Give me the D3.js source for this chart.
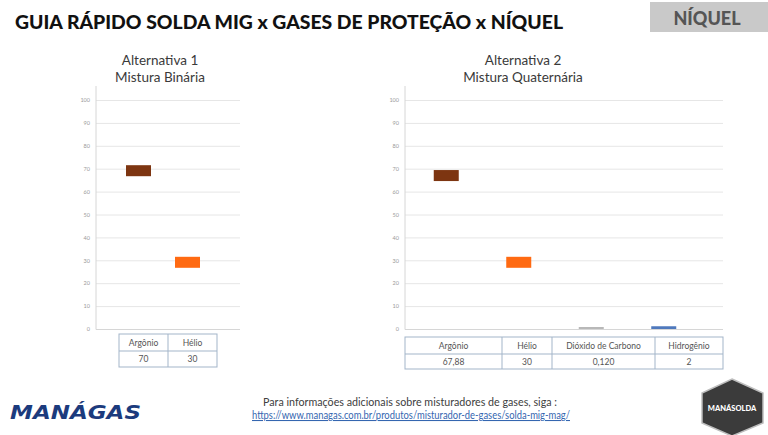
<!DOCTYPE html>
<html><head><meta charset="utf-8">
<script src="https://cdn.jsdelivr.net/npm/d3@7"></script>
<style>
body{margin:0;background:#fff;}
svg{display:block;}
</style></head>
<body>
<svg id="c" width="768" height="435"></svg>
<script>
// ---------- data ----------
const yTicks = [0,10,20,30,40,50,60,70,80,90,100];
const alt1Categories = ["Argônio","Hélio"];
const alt1Values = [70, 30];
const alt1Labels = ["70","30"];
const alt2Categories = ["Argônio","Hélio","Dióxido de Carbono","Hidrogênio"];
const alt2Values = [67.88, 30, 0.12, 2];
const alt2Labels = ["67,88","30","0,120","2"];
const gasColors = ["#7d3511","#ff6a12","#b8b8b8","#4f79bd"];

// ---------- layout ----------
const svg = d3.select("#c");
const FONT = "Lato, 'Noto Sans', sans-serif";

// header
svg.append("text").attr("x",15).attr("y",29)
  .attr("font-family",FONT).attr("font-weight","900").attr("font-size",19)
  .attr("fill","#111").attr("textLength",548).attr("lengthAdjust","spacingAndGlyphs")
  .text("GUIA RÁPIDO SOLDA MIG x GASES DE PROTEÇÃO  x NÍQUEL");
svg.append("rect").attr("x",650).attr("y",2).attr("width",118).attr("height",30).attr("fill","#c9c9c9");
svg.append("text").attr("x",707).attr("y",25).attr("text-anchor","middle")
  .attr("font-family",FONT).attr("font-weight","900").attr("font-size",18)
  .attr("fill","#555").text("NÍQUEL");

function panel(cfg){
  const g = svg.append("g");
  // subtitles
  cfg.titles.forEach((t,i)=>{
    g.append("text").attr("x",cfg.titleX).attr("y",65+i*16.5).attr("text-anchor","middle")
      .attr("font-family",FONT).attr("font-size",13.5).attr("fill","#3a3a3a").text(t);
  });
  const y = d3.scaleLinear().domain([0,100]).range([329,100]);
  // gridlines
  const grid = g.append("g").attr("transform",`translate(${cfg.axisX},0)`)
    .call(d3.axisLeft(y).tickValues(yTicks).tickSize(-(cfg.gridEnd-cfg.axisX)).tickFormat(""));
  grid.select(".domain").remove();
  grid.selectAll(".tick line").attr("stroke","#e6e6e6").attr("stroke-width",1);
  // labels
  const ax = g.append("g").attr("transform",`translate(${cfg.axisX-6},0)`)
    .call(d3.axisLeft(y).tickValues(yTicks).tickSize(0).tickPadding(0));
  ax.select(".domain").remove();
  ax.selectAll("text").attr("font-family",FONT).attr("font-size",5.5).attr("fill","#9a9a9a");
  // axis lines
  g.append("line").attr("x1",cfg.axisX).attr("x2",cfg.axisX).attr("y1",86).attr("y2",329.5)
    .attr("stroke","#d6d6d6");
  g.append("line").attr("x1",cfg.axisX).attr("x2",cfg.gridEnd).attr("y1",329.5).attr("y2",329.5)
    .attr("stroke","#d6d6d6");
  // markers
  const x = d3.scaleBand().domain(cfg.cats).range(cfg.barRange);
  const bw = 25;
  const mh = d => Math.max(2, Math.min(11,(y(0)-y(d))*0.6));
  g.selectAll("rect.m").data(cfg.vals).join("rect").attr("class","m")
    .attr("x",(d,i)=>x(cfg.cats[i])+x.bandwidth()/2-bw/2)
    .attr("width",bw)
    .attr("y",d=>Math.min(y(d)+7.5, y(0))-mh(d))
    .attr("height",mh)
    .attr("fill",(d,i)=>gasColors[i]);
  // table
  const t = g.append("g");
  let cx = cfg.tableX;
  const [ty0,ty1,ty2] = cfg.tableRows;
  const edges=[cx];
  cfg.colW.forEach(w=>{cx+=w; edges.push(cx);});
  t.append("rect").attr("x",cfg.tableX).attr("y",ty0).attr("width",cx-cfg.tableX).attr("height",ty2-ty0)
    .attr("fill","none").attr("stroke","#a3b5c9").attr("stroke-width",1);
  t.append("line").attr("x1",cfg.tableX).attr("x2",cx).attr("y1",ty1).attr("y2",ty1)
    .attr("stroke","#a3b5c9");
  edges.slice(1,-1).forEach(e=>t.append("line").attr("x1",e).attr("x2",e).attr("y1",ty0).attr("y2",ty2).attr("stroke","#a3b5c9"));
  cfg.cats.forEach((c,i)=>{
    const mx=(edges[i]+edges[i+1])/2;
    t.append("text").attr("x",mx).attr("y",(ty0+ty1)/2+3).attr("text-anchor","middle")
      .attr("font-family",FONT).attr("font-size",8.5).attr("fill","#555").text(c);
    t.append("text").attr("x",mx).attr("y",(ty1+ty2)/2+3).attr("text-anchor","middle")
      .attr("font-family",FONT).attr("font-size",8.5).attr("fill","#555").text(cfg.labels[i]);
  });
}

panel({titles:["Alternativa 1","Mistura Binária"], titleX:160, axisX:96, gridEnd:240,
  cats:alt1Categories, vals:alt1Values, labels:alt1Labels, barRange:[114,212],
  tableX:119, colW:[49,49], tableRows:[334,351,367]});
panel({titles:["Alternativa 2","Mistura Quaternária"], titleX:523, axisX:405, gridEnd:723,
  cats:alt2Categories, vals:alt2Values, labels:alt2Labels, barRange:[410,700],
  tableX:405, colW:[97,50,103,68], tableRows:[337,354,369]});

// footer
svg.append("text").attr("x",10).attr("y",419)
  .attr("font-family","'DejaVu Sans', sans-serif").attr("font-weight","bold").attr("font-style","italic")
  .attr("font-size",20).attr("fill","#1c3b7d").attr("textLength",131).attr("lengthAdjust","spacingAndGlyphs")
  .text("MANÁGAS");
svg.append("text").attr("x",410).attr("y",406).attr("text-anchor","middle")
  .attr("font-family",FONT).attr("font-size",10.5).attr("fill","#404040")
  .attr("textLength",294).attr("lengthAdjust","spacingAndGlyphs")
  .text("Para informações adicionais sobre misturadores de gases, siga :");
svg.append("text").attr("x",411).attr("y",419).attr("text-anchor","middle")
  .attr("font-family",FONT).attr("font-size",10.5).attr("fill","#3566b0").attr("text-decoration","underline")
  .attr("textLength",318).attr("lengthAdjust","spacingAndGlyphs")
  .text("https://www.managas.com.br/produtos/misturador-de-gases/solda-mig-mag/");
// logo
const hex = [[732,379],[763,393],[763,423],[732,436],[702,423],[702,393]];
svg.append("polygon").attr("points",hex.map(p=>p.join(",")).join(" "))
  .attr("fill","#3b3b3b").attr("stroke","#bdbdbd").attr("stroke-width",1.5);
svg.append("text").attr("x",732).attr("y",411).attr("text-anchor","middle")
  .attr("font-family",FONT).attr("font-weight","900").attr("font-size",7.5).attr("fill","#fff")
  .text("MANÁSOLDA");
</script>
</body></html>
